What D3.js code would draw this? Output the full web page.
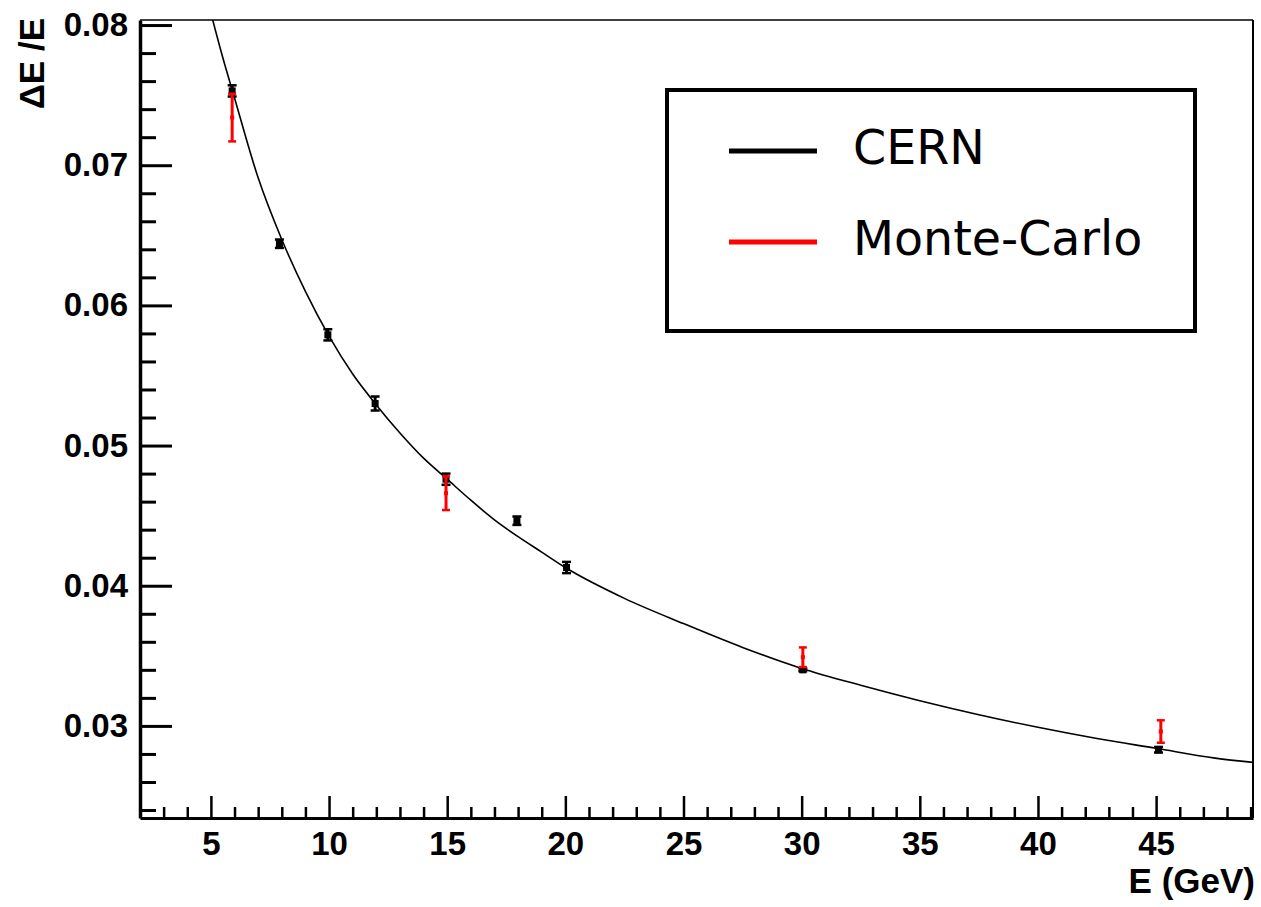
<!DOCTYPE html>
<html>
<head>
<meta charset="utf-8">
<script src="https://cdn.jsdelivr.net/npm/d3@7"></script>
<style>
  html, body { margin: 0; padding: 0; background: #fff; }
  svg { display: block; }
  .tick text { font-family: "Liberation Sans", Arial, sans-serif; font-weight: bold; }
</style>
</head>
<body>
<script>
// Energy resolution of the calorimeter: test-beam (CERN) points, Monte-Carlo points and fitted curve
const energyCern = [5.9, 7.9, 9.95, 11.95, 14.95, 17.95, 20.05, 30.05, 45.1];
const resCern    = [0.0753, 0.0644, 0.0579, 0.0530, 0.0476, 0.04464, 0.0413, 0.0340, 0.0283];
const errCern    = [0.0004, 0.0003, 0.0004, 0.0005, 0.0004, 0.0003, 0.0004, 0.0001, 0.0002];

const energyMc = [5.9, 14.95, 30.05, 45.2];
const resMc    = [0.0734, 0.0466, 0.0349, 0.0296];
const errMc    = [0.0017, 0.0012, 0.0007, 0.0008];

// Fitted resolution curve, sampled along E
const fitE   = [4.9, 5.5, 6.0, 7.0, 8.0, 9.0, 10, 11, 12, 13, 14, 15, 16, 17, 18, 19, 20,
                22.5, 25, 27.5, 30, 32.5, 35, 37.5, 40, 42.5, 45, 47.5, 49.1];
const fitRes = [0.0815, 0.0777, 0.0748, 0.0691, 0.0647, 0.0610, 0.0578, 0.0551, 0.0529, 0.0509,
                0.0491, 0.0476, 0.0461, 0.0447, 0.0435, 0.0424, 0.0413,
                0.0391, 0.0373, 0.0356, 0.0341, 0.0329, 0.0318, 0.0308, 0.0299, 0.0291, 0.0284, 0.0277, 0.0274];

const xMajor = [5, 10, 15, 20, 25, 30, 35, 40, 45];
const yMajor = [0.03, 0.04, 0.05, 0.06, 0.07, 0.08];
const legendLabels = ["CERN", "Monte-Carlo"];
const legendColors = ["#000000", "#ff0000"];

const W = 1261, H = 907;
const L = 140, R = 1253, T = 20, B = 818;

const svg = d3.select("body").append("svg").attr("width", W).attr("height", H);
svg.append("rect").attr("width", W).attr("height", H).attr("fill", "#fff");

const x = d3.scaleLinear().domain([2, 49.1]).range([L, R]);
const y = d3.scaleLinear().domain([0.02343, 0.08036]).range([B, T]);

// frame (top and right)
svg.append("line").attr("x1", L).attr("x2", R).attr("y1", T).attr("y2", T)
  .attr("stroke", "#000").attr("stroke-width", 1.5);
svg.append("line").attr("x1", R).attr("x2", R).attr("y1", T).attr("y2", B)
  .attr("stroke", "#000").attr("stroke-width", 2);

// x axis: major + minor ticks pointing into the frame
const xMinor = d3.range(2, 50, 1).filter(v => v % 5 !== 0);
svg.append("g").attr("transform", `translate(0,${B})`)
  .call(d3.axisBottom(x).tickValues(xMinor).tickSize(-11).tickSizeOuter(0).tickFormat(""))
  .call(g => g.select(".domain").remove())
  .call(g => g.selectAll(".tick line").attr("stroke-width", 2.5));
const gx = svg.append("g").attr("transform", `translate(0,${B})`)
  .call(d3.axisBottom(x).tickValues(xMajor).tickSize(-22).tickSizeOuter(0).tickPadding(13.5).tickFormat(d3.format("d")));
gx.select(".domain").attr("stroke-width", 3);
gx.selectAll(".tick line").attr("stroke-width", 2.5);
gx.selectAll(".tick text").attr("font-size", 33).attr("fill", "#000");

// y axis
const yMinor = d3.range(0.024, 0.0801, 0.002).filter(v => Math.abs(Math.round(v * 100) - v * 100) > 1e-6);
svg.append("g").attr("transform", `translate(${L},0)`)
  .call(d3.axisLeft(y).tickValues(yMinor).tickSize(-16).tickSizeOuter(0).tickFormat(""))
  .call(g => g.select(".domain").remove())
  .call(g => g.selectAll(".tick line").attr("stroke-width", 3));
const gy = svg.append("g").attr("transform", `translate(${L},0)`)
  .call(d3.axisLeft(y).tickValues(yMajor).tickSize(-32).tickSizeOuter(0).tickPadding(12).tickFormat(d3.format(".2f")));
gy.select(".domain").attr("stroke-width", 3.5);
gy.selectAll(".tick line").attr("stroke-width", 3);
gy.selectAll(".tick text").attr("font-size", 33).attr("fill", "#000");

// axis titles
svg.append("text").attr("x", 1255).attr("y", 893).attr("text-anchor", "end")
  .attr("font-family", "Liberation Sans, Arial, sans-serif").attr("font-weight", "bold")
  .attr("font-size", 35).text("E (GeV)");
svg.append("text").attr("transform", "translate(44,18) rotate(-90)").attr("text-anchor", "end")
  .attr("font-family", "Liberation Sans, Arial, sans-serif").attr("font-weight", "bold")
  .attr("font-size", 35).attr("xml:space", "preserve").text("\u0394E /E");

// clip region for the curve
svg.append("clipPath").attr("id", "plotArea")
  .append("rect").attr("x", L).attr("y", T).attr("width", R - L).attr("height", B - T);

const fitPts = fitE.map((e, i) => [e, fitRes[i]]);
svg.append("path").datum(fitPts)
  .attr("clip-path", "url(#plotArea)")
  .attr("fill", "none").attr("stroke", "#000").attr("stroke-width", 1.6)
  .attr("d", d3.line().x(d => x(d[0])).y(d => y(d[1])).curve(d3.curveMonotoneX));

// error bars with caps and square markers
function drawPoints(es, vs, errs, color, markerSize, capW) {
  const g = svg.append("g");
  es.forEach((e, i) => {
    const cx = x(e), y1 = y(vs[i] + errs[i]), y2 = y(vs[i] - errs[i]);
    g.append("line").attr("x1", cx).attr("x2", cx).attr("y1", y1).attr("y2", y2)
      .attr("stroke", color).attr("stroke-width", 3);
    [y1, y2].forEach(yy => g.append("line")
      .attr("x1", cx - capW / 2).attr("x2", cx + capW / 2).attr("y1", yy).attr("y2", yy)
      .attr("stroke", color).attr("stroke-width", 2.5));
    g.append("rect").attr("x", cx - markerSize / 2).attr("y", y(vs[i]) - markerSize / 2)
      .attr("width", markerSize).attr("height", markerSize).attr("fill", color);
  });
}
drawPoints(energyCern, resCern, errCern, "#000", 7, 9);
drawPoints(energyMc, resMc, errMc, "#ff0000", 4, 8);

// legend
const lg = svg.append("g");
lg.append("rect").attr("x", 667).attr("y", 90).attr("width", 528).attr("height", 241)
  .attr("fill", "#fff").attr("stroke", "#000").attr("stroke-width", 4);
const legY = [151, 242];
legendLabels.forEach((lab, i) => {
  lg.append("line").attr("x1", 729).attr("x2", 817).attr("y1", legY[i]).attr("y2", legY[i])
    .attr("stroke", legendColors[i]).attr("stroke-width", 5);
  lg.append("text").attr("x", 853).attr("y", legY[i] + 13)
    .attr("font-family", "DejaVu Sans, Verdana, sans-serif").attr("font-size", 47.5)
    .attr("fill", "#000").text(lab);
});
</script>
</body>
</html>
